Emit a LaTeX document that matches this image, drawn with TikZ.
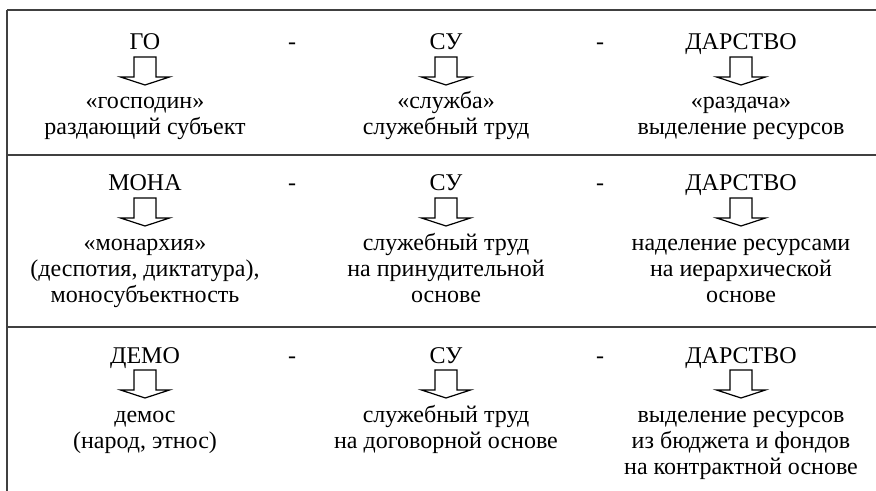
\documentclass[tikz,border=0pt]{standalone}
\usepackage{fontspec}
\setmainfont{Liberation Serif}
\usetikzlibrary{calc}

\tikzset{
	head/.style={anchor=base, inner sep=0pt, font=\fontsize{12}{13}\selectfont},
	body/.style={anchor=base, inner sep=0pt, align=center, font=\fontsize{12}{13}\selectfont},
	minus/.style={anchor=base, inner sep=0pt, font=\fontsize{12}{13}\selectfont},
	rule/.style={line width=1pt, black!75},
	strelka/.pic={\draw[line width=0.6pt] (-11,0) -- (-11,20) -- (-24.5,20) -- (0,28) -- (24.5,20) -- (11,20) -- (11,0) -- cycle;}
}

\begin{document}
\begin{tikzpicture}[x=0.5pt, y=-0.5pt]
	\useasboundingbox (0,0) rectangle (876,491);

	% table rules
	\draw [rule] (7,10) -- (876,10);
	\draw [rule] (7,155) -- (876,155);
	\draw [rule] (7,327) -- (876,327);
	\draw [rule] (7,10) -- (7,491);

	% first row (base of a body node = its last line)
	\node [head] (goT) at (145,50) {ГО};
	\node [minus] (d11) at (292,50) {-};
	\node [head] (suAT) at (446,50) {СУ};
	\node [minus] (d12) at (600,50) {-};
	\node [head] (darAT) at (741,50) {ДАРСТВО};
	\pic at ($(goT.base)+(0,7)$) {strelka};
	\pic at ($(suAT.base)+(0,7)$) {strelka};
	\pic at ($(darAT.base)+(0,7)$) {strelka};
	\node [body] (goB) at ($(goT.base)+(0,85)$) {«господин»\\раздающий субъект};
	\node [body] (suAB) at ($(suAT.base)+(0,85)$) {«служба»\\служебный труд};
	\node [body] (darAB) at ($(darAT.base)+(0,85)$) {«раздача»\\выделение ресурсов};

	% second row
	\node [head] (monaT) at (145,191) {МОНА};
	\node [minus] (d21) at (292,191) {-};
	\node [head] (suBT) at (446,191) {СУ};
	\node [minus] (d22) at (600,191) {-};
	\node [head] (darBT) at (741,191) {ДАРСТВО};
	\pic at ($(monaT.base)+(0,7)$) {strelka};
	\pic at ($(suBT.base)+(0,7)$) {strelka};
	\pic at ($(darBT.base)+(0,7)$) {strelka};
	\node [body] (monaB) at ($(monaT.base)+(0,111)$) {«монархия»\\(деспотия, диктатура),\\моносубъектность};
	\node [body] (suBB) at ($(suBT.base)+(0,111)$) {служебный труд\\на принудительной\\основе};
	\node [body] (darBB) at ($(darBT.base)+(0,111)$) {наделение ресурсами\\на иерархической\\основе};

	% third row
	\node [head] (demoT) at (145,363) {ДЕМО};
	\node [minus] (d31) at (292,363) {-};
	\node [head] (suCT) at (446,363) {СУ};
	\node [minus] (d32) at (600,363) {-};
	\node [head] (darCT) at (741,363) {ДАРСТВО};
	\pic at ($(demoT.base)+(0,7)$) {strelka};
	\pic at ($(suCT.base)+(0,7)$) {strelka};
	\pic at ($(darCT.base)+(0,7)$) {strelka};
	\node [body] (demoB) at ($(demoT.base)+(0,85)$) {демос\\(народ, этнос)};
	\node [body] (suCB) at ($(suCT.base)+(0,85)$) {служебный труд\\на договорной основе};
	\node [body] (darCB) at ($(darCT.base)+(0,111)$) {выделение ресурсов\\из бюджета и фондов\\на контрактной основе};

\end{tikzpicture}
\end{document}
